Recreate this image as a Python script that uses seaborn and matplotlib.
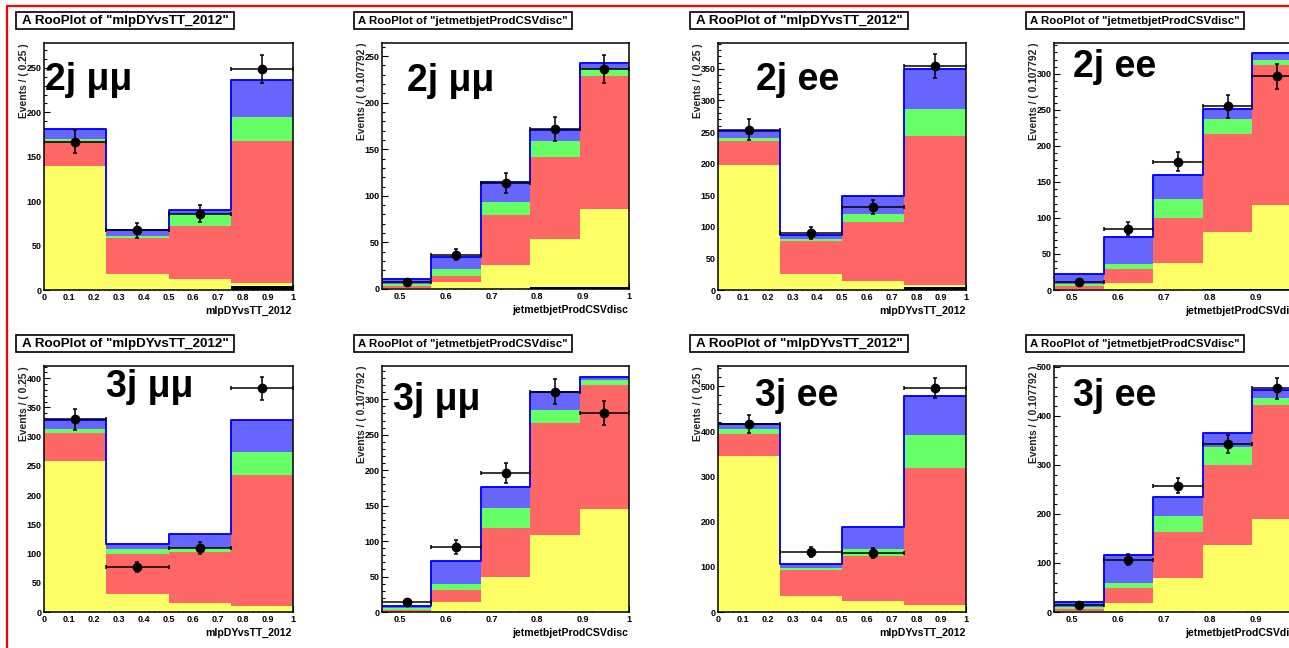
import numpy as np
import matplotlib
matplotlib.use("Agg")
import matplotlib.pyplot as plt
from matplotlib.ticker import MultipleLocator, FuncFormatter
from matplotlib.patches import Rectangle
from matplotlib.lines import Line2D
import seaborn as sns

W, H = 1289, 648

# ---- binning -------------------------------------------------------------
mlp_edges = [0.0, 0.25, 0.5, 0.75, 1.0]
csv_width = 0.107792
csv_edges = [1.0 - csv_width * k for k in (5, 4, 3, 2, 1, 0)]

# stack components, bottom to top
component_colors = ["#000000", "#ffff66", "#ff6666", "#66ff66", "#6666ff"]

# ---- 2 jets, mu mu -------------------------------------------------------
mm2j_mlp_data = [167, 67, 86, 249]
mm2j_mlp_yields = [[0, 0, 0, 4],
                   [140, 18, 12, 4],
                   [28, 40, 60, 160],
                   [2, 3, 14, 27],
                   [11, 6, 4, 41]]

mm2j_csv_data = [7, 37, 114, 172, 236]
mm2j_csv_yields = [[0, 0, 0, 2, 2],
                   [1, 7, 26, 52, 84],
                   [2, 7, 53, 88, 143],
                   [2, 7, 14, 17, 7],
                   [6, 13, 22, 12, 6]]

# ---- 2 jets, e e ---------------------------------------------------------
ee2j_mlp_data = [254, 90, 131, 354]
ee2j_mlp_yields = [[0, 0, 0, 4],
                   [198, 25, 15, 4],
                   [38, 52, 92, 235],
                   [5, 4, 14, 44],
                   [10, 6, 28, 63]]

ee2j_csv_data = [11, 85, 178, 255, 297]
ee2j_csv_yields = [[0, 0, 0, 2, 2],
                   [2, 10, 38, 79, 116],
                   [4, 19, 62, 136, 194],
                   [3, 7, 27, 21, 7],
                   [13, 38, 33, 13, 10]]

# ---- 3 jets, mu mu -------------------------------------------------------
mm3j_mlp_data = [330, 77, 109, 383]
mm3j_mlp_yields = [[0, 0, 0, 0],
                   [259, 31, 15, 11],
                   [47, 69, 87, 224],
                   [7, 8, 7, 38],
                   [16, 9, 25, 55]]

mm3j_csv_data = [14, 92, 196, 311, 281]
mm3j_csv_yields = [[0, 0, 0, 0, 0],
                   [1, 14, 50, 108, 145],
                   [2, 17, 69, 158, 175],
                   [3, 9, 28, 19, 7],
                   [3, 32, 30, 26, 5]]

# ---- 3 jets, e e ---------------------------------------------------------
ee3j_mlp_data = [416, 133, 130, 496]
ee3j_mlp_yields = [[0, 0, 0, 0],
                   [345, 35, 24, 15],
                   [50, 57, 100, 303],
                   [10, 5, 15, 75],
                   [11, 9, 50, 86]]

ee3j_csv_data = [14, 107, 258, 343, 457]
ee3j_csv_yields = [[0, 0, 0, 0, 0],
                   [3, 18, 69, 137, 190],
                   [4, 31, 95, 162, 232],
                   [3, 11, 31, 38, 14],
                   [10, 57, 40, 29, 17]]

panel_labels = ["2j μμ", "2j μμ", "2j ee", "2j ee",
                "3j μμ", "3j μμ", "3j ee", "3j ee"]

# ---- style ---------------------------------------------------------------
sns.set_theme(style="ticks")
plt.rcParams["font.family"] = ["Liberation Sans", "DejaVu Sans"]
plt.rcParams["font.weight"] = "bold"

fig = plt.figure(figsize=(W / 100, H / 100), dpi=100)
fig.patch.set_facecolor("white")
title_texts = []


def px_axes(l, t, r, b):
    return fig.add_axes([l / W, 1 - b / H, (r - l) / W, (b - t) / H])


def fig_text(x, y, s, **kw):
    return fig.text(x / W, 1 - y / H, s, **kw)


def draw_panel(box, edges, data, yields, var, binw, ymax, major, minor,
               label, label_xy):
    l, t, r, b = box
    ax = px_axes(l, t, r, b)
    ax.set_facecolor("white")
    edge_list = [float(e) for e in edges]
    edges = np.asarray(edge_list)
    centers = 0.5 * (edges[:-1] + edges[1:])
    half = 0.5 * np.diff(edges)
    cum = np.cumsum(np.asarray(yields, float), axis=0)

    # cumulative curves, largest first, as stacked filled histograms
    for lvl in range(len(cum) - 1, -1, -1):
        if cum[lvl].max() <= 0:
            continue
        sns.histplot(x=centers, weights=cum[lvl], bins=edge_list,
                     element="step", fill=True,
                     color=component_colors[lvl], alpha=1, linewidth=0,
                     ax=ax)
    sns.histplot(x=centers, weights=cum[-1], bins=edge_list, element="step",
                 fill=False, color="#0000ff", linewidth=1.35, ax=ax)

    data = np.asarray(data, float)
    ax.errorbar(centers, data, xerr=half, yerr=np.sqrt(data), fmt="o",
                color="black", ms=6, capsize=1.7, elinewidth=1.1,
                capthick=1.1, zorder=5)

    ax.set_xlim(edges[0], edges[-1])
    ax.set_ylim(0, ymax)
    ax.set_xlabel("")
    ax.set_ylabel("")
    ax.xaxis.set_major_locator(MultipleLocator(0.1))
    ax.xaxis.set_minor_locator(MultipleLocator(0.02))
    ax.yaxis.set_major_locator(MultipleLocator(major))
    ax.yaxis.set_minor_locator(MultipleLocator(minor))
    fmt = FuncFormatter(lambda v, p: f"{v:g}")
    ax.xaxis.set_major_formatter(fmt)
    ax.yaxis.set_major_formatter(fmt)
    ax.tick_params(which="both", direction="in", top=False, right=False,
                   width=0.8, color="black", labelsize=6.5,
                   labelcolor="black")
    ax.tick_params(which="major", length=4.5)
    ax.tick_params(which="minor", length=2.2)
    ax.tick_params(axis="y", pad=1.5)
    ax.tick_params(axis="x", pad=2)
    for lab in ax.get_xticklabels() + ax.get_yticklabels():
        lab.set_fontweight("bold")
    for sp in ax.spines.values():
        sp.set_color("black")
        sp.set_linewidth(1.1)
        sp.set_zorder(6)

    # axis titles
    fig_text(r - 1, b + 24, var, ha="right", va="baseline", fontsize=7.6,
             fontweight="bold", color="black")
    fig_text(l - 20, t, f"Events / ( {binw} )", rotation=90, ha="center",
             va="top", fontsize=7.4, fontweight="bold", color="#222222")

    # plot title box
    bx, by = l - 28, t - 31
    fig.add_artist(Rectangle((bx / W, 1 - (by + 17) / H), 218 / W, 17 / H,
                             transform=fig.transFigure, facecolor="white",
                             edgecolor="black", linewidth=1.2))
    title_texts.append(fig_text(bx + 109, by + 9, f'A RooPlot of "{var}"',
                                ha="center", va="center", fontsize=9.0,
                                fontweight="bold", color="black"))

    # channel tag
    fig_text(label_xy[0], label_xy[1], label, ha="left", va="baseline",
             fontsize=27, fontweight="bold", color="black")
    return ax


panels = [
    ((44, 43, 293, 290), mlp_edges, mm2j_mlp_data, mm2j_mlp_yields,
     "mlpDYvsTT_2012", "0.25", 278, 50, 10, (45, 90)),
    ((382, 43, 629, 289), csv_edges, mm2j_csv_data, mm2j_csv_yields,
     "jetmetbjetProdCSVdisc", "0.107792", 264, 50, 10, (407, 91)),
    ((718, 43, 966, 290), mlp_edges, ee2j_mlp_data, ee2j_mlp_yields,
     "mlpDYvsTT_2012", "0.25", 391, 50, 10, (756, 90)),
    ((1054, 43, 1302, 290), csv_edges, ee2j_csv_data, ee2j_csv_yields,
     "jetmetbjetProdCSVdisc", "0.107792", 343, 50, 10, (1073, 77)),
    ((44, 366, 293, 612), mlp_edges, mm3j_mlp_data, mm3j_mlp_yields,
     "mlpDYvsTT_2012", "0.25", 421, 50, 10, (106, 397)),
    ((382, 366, 629, 612), csv_edges, mm3j_csv_data, mm3j_csv_yields,
     "jetmetbjetProdCSVdisc", "0.107792", 347, 50, 10, (393, 410)),
    ((718, 366, 966, 612), mlp_edges, ee3j_mlp_data, ee3j_mlp_yields,
     "mlpDYvsTT_2012", "0.25", 545, 100, 20, (755, 406)),
    ((1054, 366, 1302, 612), csv_edges, ee3j_csv_data, ee3j_csv_yields,
     "jetmetbjetProdCSVdisc", "0.107792", 502, 100, 20, (1073, 406)),
]

for spec, label in zip(panels, panel_labels):
    box, edges, data, yields, var, binw, ymax, major, minor, lxy = spec
    draw_panel(box, edges, data, yields, var, binw, ymax, major, minor,
               label, lxy)

# shrink each plot title so it fills its box
renderer = fig.canvas.get_renderer()
for txt in title_texts:
    width = txt.get_window_extent(renderer).width
    txt.set_fontsize(txt.get_fontsize() * 208.0 / width)

# slide frame
fig.add_artist(Line2D([7 / W, 1.0], [1 - 6 / H, 1 - 6 / H],
                      transform=fig.transFigure, color="red", lw=1.6))
fig.add_artist(Line2D([7 / W, 7 / W], [1 - 6 / H, 0.0],
                      transform=fig.transFigure, color="red", lw=1.6))

fig.savefig("out.png", dpi=100, facecolor="white")
